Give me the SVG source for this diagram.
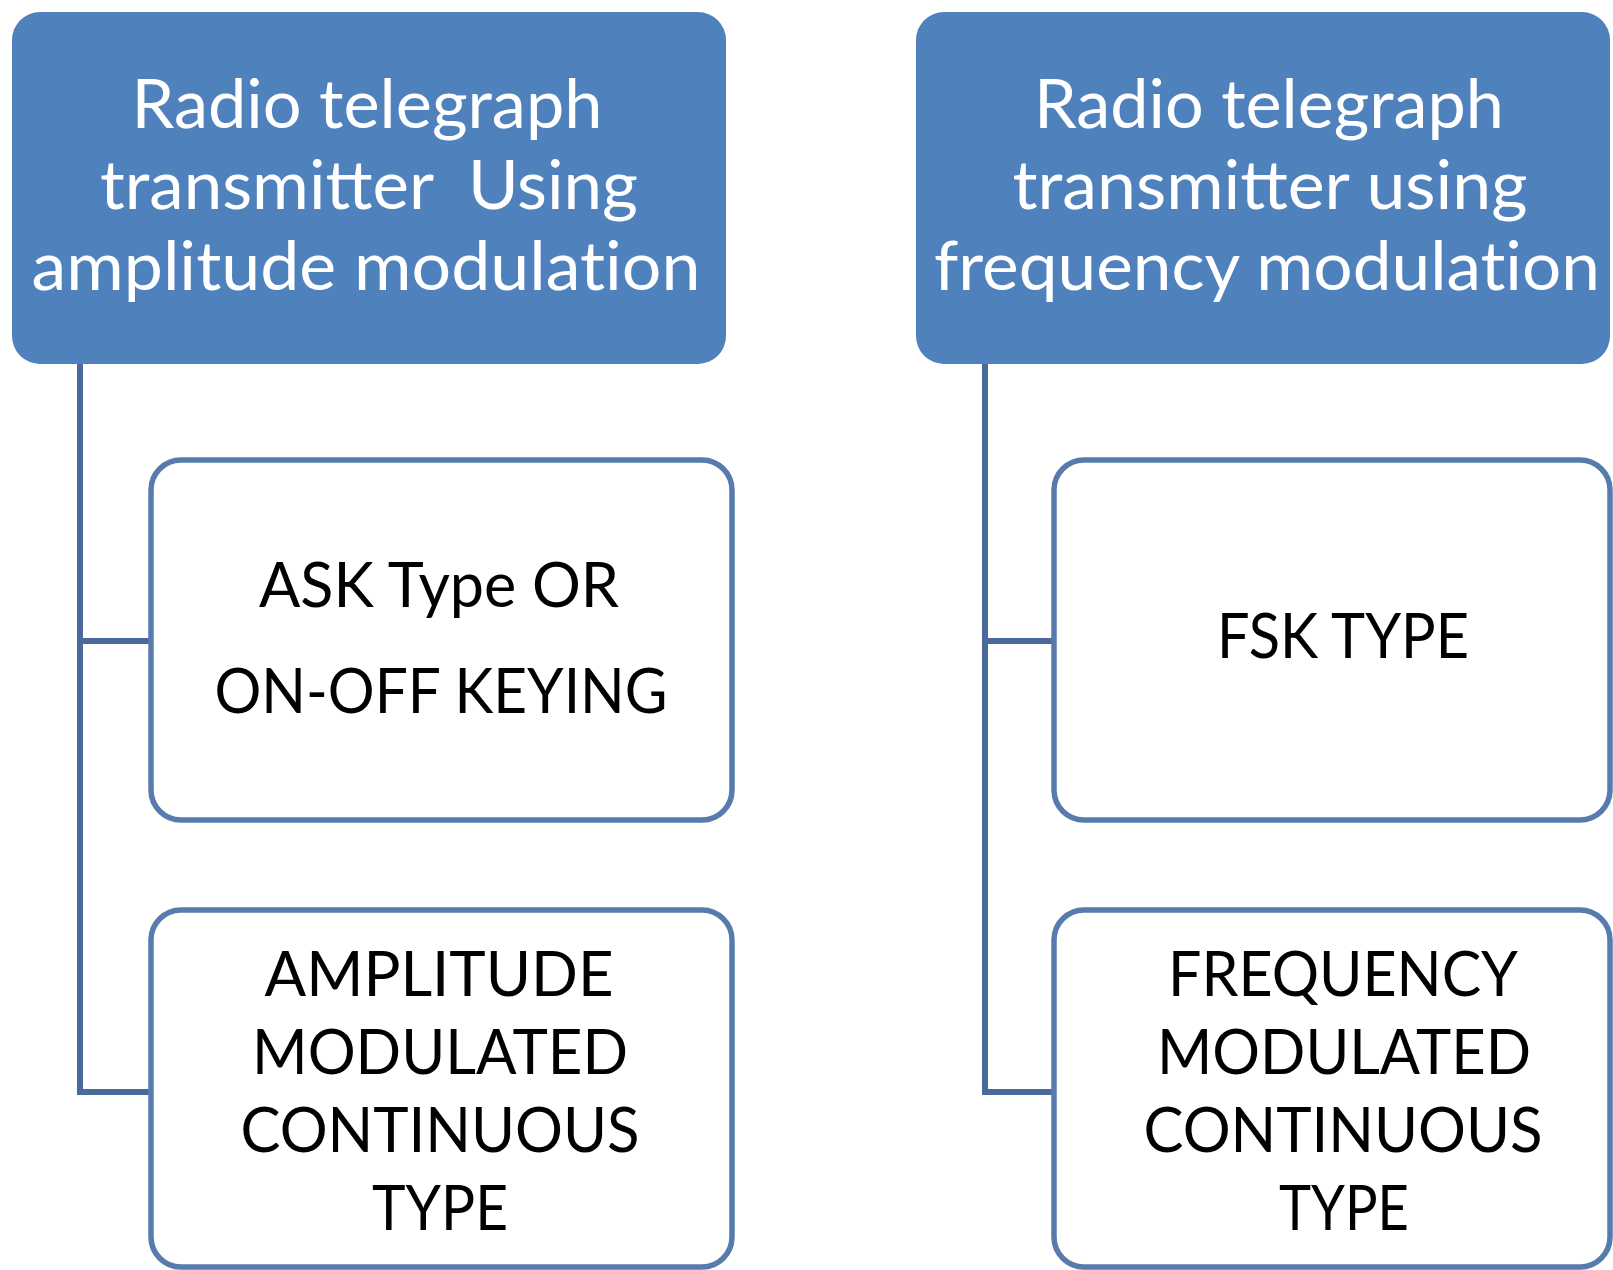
<svg xmlns="http://www.w3.org/2000/svg" width="1613" height="1270" viewBox="0 0 1613 1270">
  <style>
    .head { fill: #4F81BD; }
    .child { fill: #FFFFFF; stroke: #587BAD; stroke-width: 5.5; }
    .wire { fill: none; stroke: #4A6A9C; stroke-width: 6; }
    .ht { font-family: Lato, "Liberation Sans", sans-serif; font-size: 68px; fill: #FFFFFF; text-anchor: middle; }
    .ct { font-family: Lato, "Liberation Sans", sans-serif; font-size: 62px; fill: #000000; text-anchor: middle; }
    .plain { font-variant-ligatures: none; }
  </style>
  <rect width="1613" height="1270" fill="#FFFFFF"/>

  <!-- tree connectors -->
  <g id="connectors">
    <path class="wire" d="M80,364 V1092 H151 M80,641 H151"/>
    <path class="wire" d="M985,364 V1092 H1054 M985,641 H1054"/>
  </g>

  <!-- amplitude modulation branch -->
  <g id="am-root">
    <rect class="head" x="12" y="12" width="714" height="352" rx="28"/>
    <text class="ht" x="367" y="128" textLength="471" lengthAdjust="spacingAndGlyphs">Radio telegraph</text>
    <text class="ht" x="369" y="209" textLength="538" lengthAdjust="spacingAndGlyphs" xml:space="preserve">transmitter  Using</text>
    <text class="ht plain" x="366" y="290" textLength="669" lengthAdjust="spacingAndGlyphs">amplitude modulation</text>
  </g>
  <g id="am-ask">
    <rect class="child" x="151" y="460" width="581" height="360" rx="30"/>
    <text class="ct" x="439" y="607" textLength="360" lengthAdjust="spacingAndGlyphs">ASK Type OR</text>
    <text class="ct" x="441" y="713" textLength="453" lengthAdjust="spacingAndGlyphs">ON-OFF KEYING</text>
  </g>
  <g id="am-continuous">
    <rect class="child" x="151" y="910" width="581" height="357" rx="30"/>
    <text class="ct" x="439" y="996" textLength="349" lengthAdjust="spacingAndGlyphs">AMPLITUDE</text>
    <text class="ct" x="440" y="1074" textLength="376" lengthAdjust="spacingAndGlyphs">MODULATED</text>
    <text class="ct" x="440" y="1152" textLength="399" lengthAdjust="spacingAndGlyphs">CONTINUOUS</text>
    <text class="ct" x="440" y="1230" textLength="136" lengthAdjust="spacingAndGlyphs">TYPE</text>
  </g>

  <!-- frequency modulation branch -->
  <g id="fm-root">
    <rect class="head" x="916" y="12" width="694" height="352" rx="28"/>
    <text class="ht" x="1269" y="128" textLength="470" lengthAdjust="spacingAndGlyphs">Radio telegraph</text>
    <text class="ht" x="1270" y="209" textLength="515" lengthAdjust="spacingAndGlyphs">transmitter using</text>
    <text class="ht plain" x="1267" y="290" textLength="666" lengthAdjust="spacingAndGlyphs">frequency modulation</text>
  </g>
  <g id="fm-fsk">
    <rect class="child" x="1054" y="460" width="556" height="360" rx="30"/>
    <text class="ct" x="1343" y="658" textLength="252" lengthAdjust="spacingAndGlyphs">FSK TYPE</text>
  </g>
  <g id="fm-continuous">
    <rect class="child" x="1054" y="910" width="556" height="357" rx="30"/>
    <text class="ct" x="1343" y="996" textLength="350" lengthAdjust="spacingAndGlyphs">FREQUENCY</text>
    <text class="ct" x="1344" y="1074" textLength="374" lengthAdjust="spacingAndGlyphs">MODULATED</text>
    <text class="ct" x="1343" y="1152" textLength="399" lengthAdjust="spacingAndGlyphs">CONTINUOUS</text>
    <text class="ct" x="1344" y="1230" textLength="130" lengthAdjust="spacingAndGlyphs">TYPE</text>
  </g>
</svg>
